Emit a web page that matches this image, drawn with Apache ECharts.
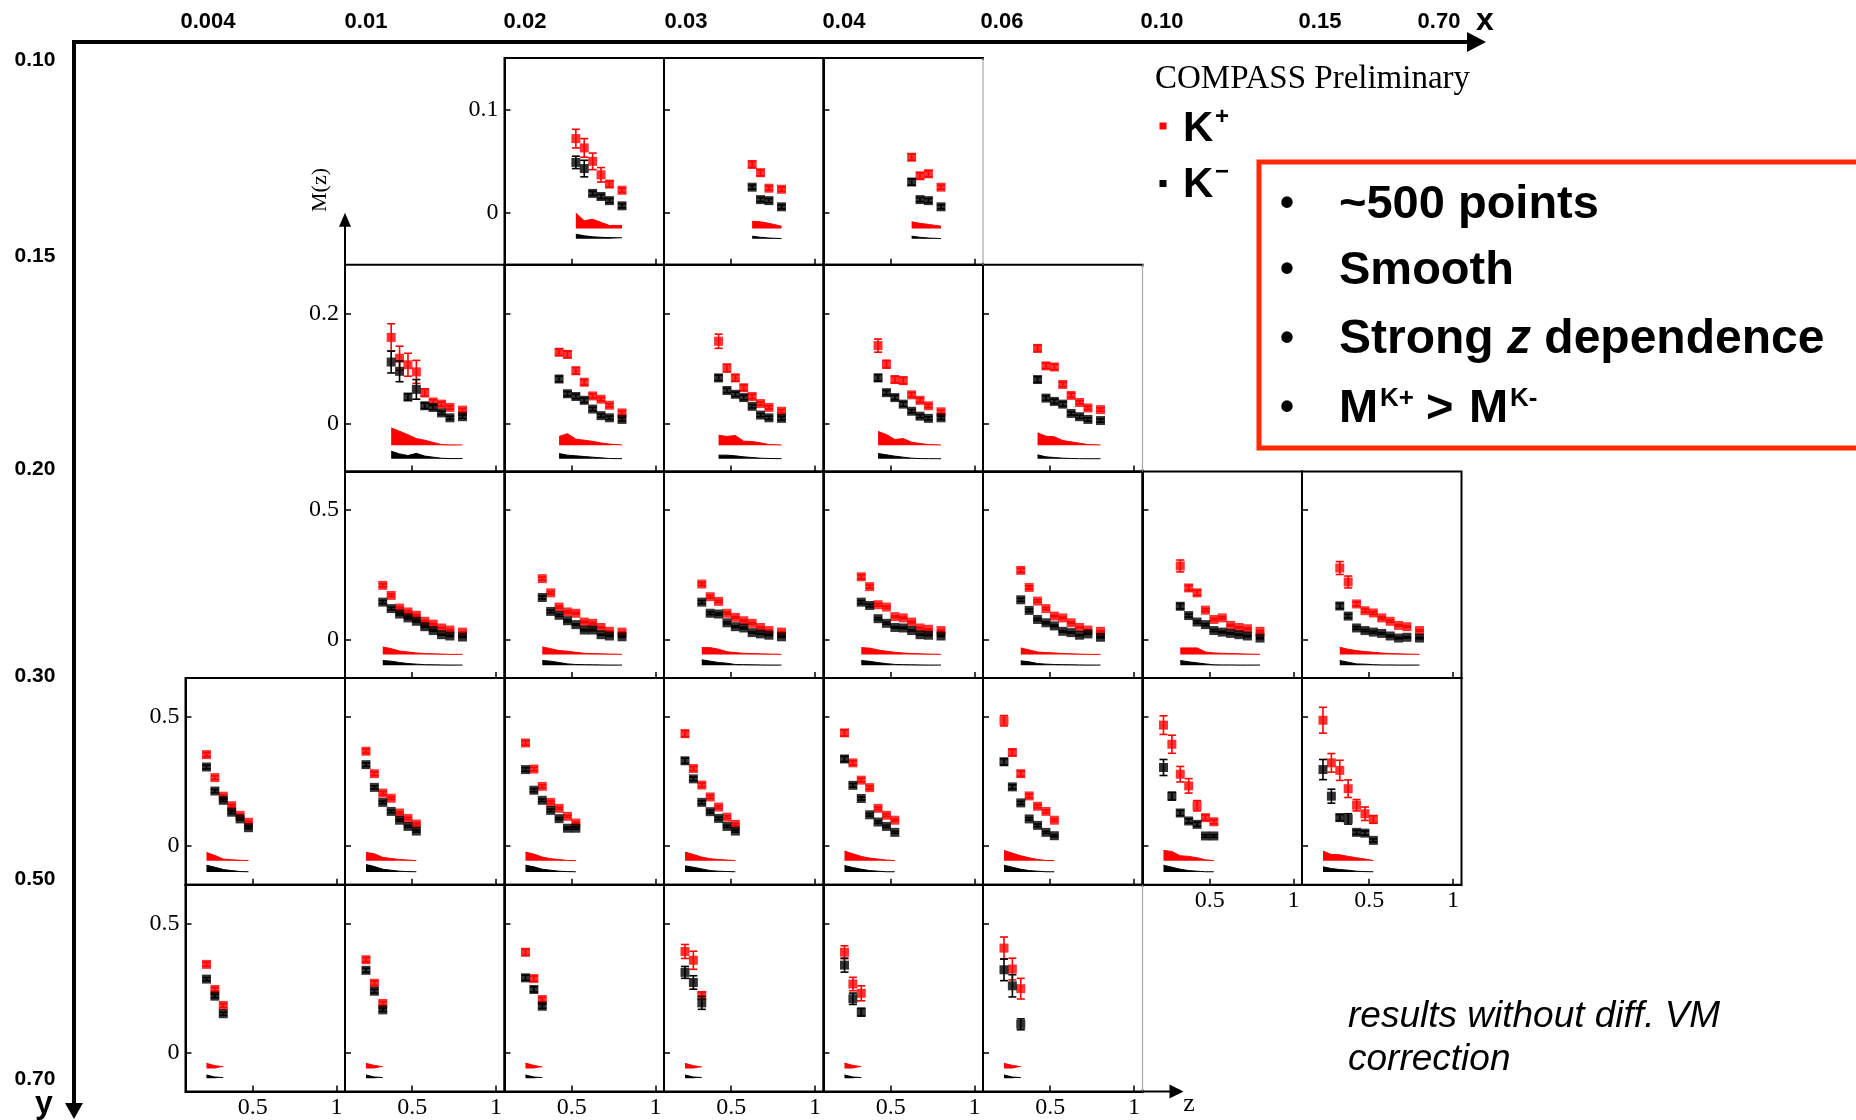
<!DOCTYPE html>
<html><head><meta charset="utf-8">
<script src="https://cdn.jsdelivr.net/npm/echarts/dist/echarts.min.js"></script>
<style>html,body{margin:0;padding:0;background:#fff;}#chart{width:1856px;height:1120px;}</style>
</head><body><div id="chart"></div>
<script>
// ---------------- data ----------------
const Z_BINS = [0.225,0.275,0.325,0.375,0.425,0.475,0.525,0.575,0.625,0.675,0.725,0.8];
const Z_RANGE = [0.1, 1.05];
const Z_TICKS = [0.5, 1];
const X_BIN_LABELS = ['0.004','0.01','0.02','0.03','0.04','0.06','0.10','0.15','0.70'];
const Y_BIN_LABELS = ['0.10','0.15','0.20','0.30','0.50','0.70'];

const ROW_MIN  = [-0.05, -0.088, -0.15, -0.15, -0.15];
const ROW_MAX  = [0.15, 0.29, 0.65, 0.65, 0.65];
const ROW_TICK = [0.1, 0.2, 0.5, 0.5, 0.5];
const ROW_KP_BASE = [-0.015, -0.040, -0.059, -0.057, -0.061];
const ROW_KM_BASE = [-0.025, -0.065, -0.100, -0.100, -0.099];

const PANEL_ROW = [0,0,0, 1,1,1,1,1, 2,2,2,2,2,2,2, 3,3,3,3,3,3,3,3, 4,4,4,4,4,4];
const PANEL_COL = [2,3,4, 1,2,3,4,5, 1,2,3,4,5,6,7, 0,1,2,3,4,5,6,7, 0,1,2,3,4,5];
const PANEL_ZSTART = [6,8,8, 3,4,4,4,4, 2,2,2,2,2,2,2, 0,0,0,0,0,0,0,0, 0,0,0,0,0,0];

const KP = [
 [0.072,0.063,0.050,0.037,0.028,0.022],
 [0.047,0.039,0.024,0.023],
 [0.054,0.036,0.038,0.025],
 [0.157,0.119,0.107,0.094,0.056,0.039,0.035,0.029,0.024],
 [0.130,0.126,0.096,0.075,0.050,0.044,0.033,0.019],
 [0.150,0.101,0.083,0.065,0.049,0.036,0.029,0.022],
 [0.142,0.108,0.080,0.078,0.052,0.042,0.032,0.021],
 [0.137,0.105,0.103,0.071,0.051,0.038,0.028,0.025],
 [0.209,0.170,0.121,0.106,0.093,0.070,0.059,0.044,0.036,0.028],
 [0.235,0.180,0.125,0.106,0.101,0.067,0.062,0.046,0.031,0.028],
 [0.214,0.165,0.147,0.101,0.085,0.072,0.062,0.046,0.034,0.028],
 [0.242,0.204,0.134,0.125,0.088,0.083,0.067,0.044,0.039,0.034],
 [0.267,0.201,0.148,0.119,0.090,0.083,0.064,0.046,0.036,0.031],
 [0.284,0.199,0.180,0.113,0.077,0.083,0.054,0.046,0.041,0.031],
 [0.276,0.222,0.137,0.111,0.102,0.083,0.070,0.054,0.049,0.034],
 [0.354,0.265,0.193,0.156,0.119,0.092],
 [0.367,0.280,0.205,0.185,0.128,0.107,0.085],
 [0.399,0.298,0.231,0.169,0.146,0.115,0.089],
 [0.435,0.300,0.236,0.190,0.151,0.112,0.084],
 [0.438,0.322,0.255,0.226,0.146,0.119,0.100],
 [0.485,0.362,0.280,0.194,0.154,0.134,0.100],
 [0.468,0.394,0.278,0.233,0.156,0.110,0.094],
 [0.487,0.322,0.293,0.222,0.158,0.125,0.103],
 [0.342,0.245,0.183],
 [0.360,0.269,0.191],
 [0.389,0.287,0.206],
 [0.392,0.358,0.222],
 [0.389,0.266,0.230],
 [0.405,0.324,0.248]
];
const KM = [
 [0.049,0.043,0.019,0.016,0.012,0.007],
 [0.025,0.013,0.012,0.006],
 [0.030,0.013,0.012,0.006],
 [0.112,0.095,0.048,0.062,0.032,0.029,0.019,0.010,0.012],
 [0.081,0.054,0.049,0.042,0.026,0.014,0.010,0.007],
 [0.083,0.060,0.053,0.047,0.031,0.015,0.010,0.009],
 [0.083,0.056,0.047,0.035,0.022,0.013,0.009,0.010],
 [0.080,0.046,0.040,0.035,0.018,0.012,0.007,0.005],
 [0.144,0.119,0.098,0.083,0.070,0.049,0.034,0.018,0.013,0.009],
 [0.162,0.108,0.093,0.072,0.057,0.036,0.036,0.018,0.013,0.010],
 [0.144,0.101,0.098,0.064,0.049,0.044,0.026,0.021,0.016,0.010],
 [0.144,0.131,0.080,0.062,0.046,0.044,0.034,0.018,0.016,0.013],
 [0.153,0.112,0.077,0.064,0.052,0.031,0.026,0.016,0.021,0.008],
 [0.128,0.092,0.067,0.057,0.034,0.028,0.023,0.018,0.013,0.005],
 [0.129,0.090,0.044,0.034,0.028,0.023,0.013,0.005,0.008,0.005],
 [0.306,0.213,0.177,0.131,0.105,0.071],
 [0.315,0.227,0.169,0.134,0.100,0.076,0.058],
 [0.296,0.216,0.177,0.138,0.106,0.069,0.069],
 [0.330,0.260,0.169,0.133,0.107,0.076,0.058],
 [0.337,0.235,0.184,0.121,0.093,0.076,0.053],
 [0.326,0.229,0.167,0.105,0.080,0.053,0.040],
 [0.304,0.193,0.128,0.097,0.084,0.039,0.039],
 [0.296,0.193,0.110,0.105,0.053,0.050,0.022],
 [0.285,0.219,0.151],
 [0.319,0.238,0.166],
 [0.290,0.245,0.180],
 [0.311,0.272,0.193],
 [0.339,0.209,0.157],
 [0.321,0.259,0.110]
];
const KP_ERR = [
 [0.009,0.009,0.008,0.007,0.003,0.002],
 [0.003,0.003,0.002,0.002],
 [0.003,0.003,0.003,0.002],
 [0.025,0.022,0.021,0.021,0.007,0.004,0.004,0.003,0.003],
 [0.006,0.006,0.006,0.005,0.004,0.003,0.003,0.003],
 [0.013,0.007,0.006,0.005,0.004,0.003,0.003,0.003],
 [0.012,0.007,0.006,0.006,0.004,0.004,0.003,0.003],
 [0.006,0.005,0.005,0.004,0.004,0.003,0.003,0.003],
 [0.006,0.005,0.004,0.004,0.003,0.003,0.003,0.002,0.002,0.002],
 [0.006,0.005,0.004,0.004,0.003,0.003,0.003,0.002,0.002,0.002],
 [0.006,0.005,0.004,0.004,0.003,0.003,0.003,0.002,0.002,0.002],
 [0.008,0.006,0.005,0.004,0.003,0.003,0.003,0.002,0.002,0.002],
 [0.008,0.006,0.005,0.004,0.003,0.003,0.003,0.002,0.002,0.002],
 [0.023,0.010,0.010,0.005,0.004,0.004,0.003,0.003,0.003,0.003],
 [0.025,0.023,0.008,0.006,0.005,0.004,0.004,0.003,0.003,0.003],
 [0.008,0.007,0.006,0.005,0.004,0.004],
 [0.008,0.007,0.006,0.005,0.004,0.004,0.004],
 [0.009,0.007,0.006,0.005,0.004,0.004,0.004],
 [0.012,0.008,0.007,0.006,0.005,0.005,0.004],
 [0.012,0.008,0.007,0.006,0.005,0.005,0.004],
 [0.020,0.012,0.010,0.007,0.006,0.006,0.005],
 [0.036,0.035,0.030,0.028,0.020,0.010,0.008],
 [0.050,0.036,0.039,0.034,0.022,0.026,0.015],
 [0.008,0.007,0.007],
 [0.009,0.008,0.007],
 [0.012,0.010,0.008],
 [0.027,0.035,0.013],
 [0.025,0.026,0.029],
 [0.043,0.042,0.040]
];
const KM_ERR = [
 [0.006,0.008,0.002,0.002,0.002,0.002],
 [0.002,0.002,0.002,0.002],
 [0.003,0.002,0.002,0.002],
 [0.020,0.019,0.006,0.018,0.005,0.004,0.003,0.003,0.003],
 [0.005,0.004,0.004,0.004,0.003,0.003,0.003,0.003],
 [0.005,0.004,0.004,0.004,0.003,0.003,0.003,0.003],
 [0.006,0.004,0.004,0.004,0.003,0.003,0.003,0.003],
 [0.005,0.004,0.004,0.004,0.003,0.003,0.003,0.003],
 [0.006,0.005,0.004,0.004,0.003,0.003,0.003,0.002,0.002,0.002],
 [0.006,0.005,0.004,0.004,0.003,0.003,0.003,0.002,0.002,0.002],
 [0.006,0.005,0.004,0.004,0.003,0.003,0.003,0.002,0.002,0.002],
 [0.006,0.005,0.004,0.004,0.003,0.003,0.003,0.002,0.002,0.002],
 [0.006,0.005,0.004,0.004,0.003,0.003,0.003,0.002,0.002,0.002],
 [0.010,0.006,0.005,0.004,0.004,0.003,0.003,0.003,0.003,0.003],
 [0.010,0.007,0.005,0.004,0.004,0.003,0.003,0.003,0.003,0.003],
 [0.007,0.006,0.005,0.005,0.004,0.004],
 [0.007,0.006,0.005,0.005,0.004,0.004,0.004],
 [0.007,0.006,0.005,0.005,0.004,0.004,0.004],
 [0.010,0.007,0.006,0.005,0.005,0.004,0.004],
 [0.010,0.007,0.006,0.005,0.005,0.004,0.004],
 [0.012,0.008,0.006,0.005,0.005,0.004,0.004],
 [0.031,0.015,0.010,0.008,0.008,0.005,0.005],
 [0.039,0.027,0.012,0.020,0.008,0.008,0.006],
 [0.006,0.006,0.006],
 [0.008,0.007,0.006],
 [0.010,0.010,0.008],
 [0.023,0.026,0.025],
 [0.027,0.022,0.015],
 [0.042,0.043,0.021]
];
const KP_SYS = [
 [0.015,0.0075,0.009,0.006,0.003,0.003],
 [0.007,0.0065,0.005,0.0023],
 [0.0065,0.005,0.004,0.0023],
 [0.0315,0.0255,0.019,0.012,0.009,0.005,0.001,0.0005,0.0005],
 [0.016,0.021,0.011,0.009,0.007,0.004,0.002,0.0005],
 [0.018,0.016,0.0176,0.0073,0.0067,0.0042,0.0012,0.0003],
 [0.025,0.0195,0.0103,0.012,0.0055,0.003,0.0012,0.0003],
 [0.0225,0.0164,0.0152,0.0085,0.006,0.0036,0.0012,0.0003],
 [0.0296,0.023,0.014,0.010,0.0064,0.004,0.003,0.002,0.001,0.001],
 [0.0296,0.023,0.0155,0.013,0.009,0.005,0.004,0.003,0.002,0.001],
 [0.027,0.027,0.021,0.011,0.0077,0.005,0.004,0.003,0.002,0.001],
 [0.027,0.025,0.018,0.013,0.009,0.006,0.004,0.003,0.002,0.001],
 [0.0258,0.018,0.0103,0.0077,0.0064,0.004,0.003,0.002,0.001,0.001],
 [0.0258,0.0258,0.0258,0.0103,0.0064,0.005,0.004,0.003,0.002,0.001],
 [0.0283,0.0206,0.0155,0.0116,0.009,0.006,0.004,0.003,0.002,0.001],
 [0.0323,0.0207,0.0065,0.004,0.002,0.001],
 [0.0323,0.0271,0.013,0.009,0.005,0.0026,0.001],
 [0.0336,0.0258,0.0142,0.008,0.005,0.0013,0.0005],
 [0.0336,0.0245,0.0142,0.008,0.005,0.0026,0.001],
 [0.0375,0.0271,0.0168,0.0103,0.0065,0.0026,0.001],
 [0.040,0.0297,0.0194,0.0116,0.005,0.0013,0.0005],
 [0.040,0.036,0.0194,0.017,0.0116,0.004,0.0005],
 [0.0375,0.0245,0.0232,0.017,0.0116,0.0065,0.001],
 [0.020,0.011,0.007],
 [0.020,0.012,0.007],
 [0.021,0.012,0.006],
 [0.020,0.011,0.006],
 [0.021,0.012,0.007],
 [0.020,0.012,0.007]
];
const KM_SYS = [
 [0.0045,0.003,0.002,0.0015,0.0012,0.001],
 [0.0026,0.0015,0.0008,0.0003],
 [0.0026,0.0015,0.0008,0.0003],
 [0.014,0.009,0.006,0.010,0.005,0.003,0.001,0.0005,0.0005],
 [0.0097,0.0067,0.0055,0.0042,0.003,0.0018,0.0006,0.0003],
 [0.0067,0.0067,0.0055,0.0036,0.0024,0.0012,0.0006,0.0003],
 [0.0097,0.0073,0.0049,0.003,0.0012,0.0005,0.0003,0.0002],
 [0.0073,0.0036,0.0024,0.0012,0.0006,0.0003,0.0002,0.0002],
 [0.018,0.0155,0.0103,0.0064,0.004,0.002,0.0015,0.001,0.0005,0.0005],
 [0.018,0.0155,0.0103,0.005,0.0026,0.002,0.0015,0.001,0.0005,0.0005],
 [0.0206,0.0155,0.0103,0.0077,0.0026,0.002,0.0015,0.001,0.0005,0.0005],
 [0.018,0.015,0.010,0.006,0.003,0.002,0.0015,0.001,0.0005,0.0005],
 [0.0168,0.013,0.0064,0.004,0.0026,0.002,0.0015,0.001,0.0005,0.0005],
 [0.018,0.013,0.009,0.005,0.0013,0.001,0.001,0.0005,0.0005,0.0005],
 [0.018,0.0116,0.005,0.004,0.002,0.001,0.001,0.0005,0.0005,0.0005],
 [0.0258,0.018,0.009,0.005,0.0013,0.0005],
 [0.0284,0.0207,0.0103,0.0065,0.0026,0.001,0.0005],
 [0.0258,0.0194,0.0103,0.0065,0.0026,0.001,0.0005],
 [0.0233,0.0181,0.0116,0.005,0.0026,0.0013,0.0005],
 [0.0245,0.0168,0.0103,0.005,0.0026,0.0005,0.0005],
 [0.0258,0.0181,0.0103,0.005,0.0026,0.0005,0.0005],
 [0.0258,0.018,0.0103,0.005,0.0026,0.0005,0.0005],
 [0.0194,0.013,0.009,0.0065,0.0026,0.001,0.0005],
 [0.013,0.005,0.003],
 [0.013,0.005,0.003],
 [0.013,0.005,0.003],
 [0.013,0.005,0.003],
 [0.013,0.005,0.003],
 [0.013,0.005,0.003]
];

// ---------------- layout / style ----------------
const COL_LEFT0 = 185.5, COL_W = 159.5, ROW_TOP0 = 58, ROW_H = 206.7;
const RED = '#ff0000', BLACK = '#000000', BOX_RED = '#ff2a00';
const SERIF = "'Liberation Serif','Times New Roman',serif";
const SANS = "'Liberation Sans',Arial,Helvetica,sans-serif";
const X_LABEL_POS = [208, 366, 525, 686, 844, 1002, 1162, 1320, 1439];
const Y_LABEL_POS = [60, 256, 469, 676, 879, 1079];
const BULLET_Y = [205, 271, 340, 409];

function colLeft(c){ return COL_LEFT0 + c*COL_W; }
function rowTop(r){ return ROW_TOP0 + r*ROW_H; }
function hasPanel(r, c){
  for (let i = 0; i < PANEL_ROW.length; i++) if (PANEL_ROW[i] === r && PANEL_COL[i] === c) return true;
  return false;
}
function errRender(color){
  return function(params, api){
    const x = api.value(0);
    const t = api.coord([x, api.value(2)]);
    const b = api.coord([x, api.value(1)]);
    const w = 4;
    const st = {stroke: color, lineWidth: 1.6};
    return {type:'group', children:[
      {type:'line', shape:{x1:t[0], y1:t[1], x2:b[0], y2:b[1]}, style: st},
      {type:'line', shape:{x1:t[0]-w, y1:t[1], x2:t[0]+w, y2:t[1]}, style: st},
      {type:'line', shape:{x1:b[0]-w, y1:b[1], x2:b[0]+w, y2:b[1]}, style: st}
    ]};
  };
}

const grids = [], xAxes = [], yAxes = [], series = [];
const graphics = [];

for (let p = 0; p < PANEL_ROW.length; p++){
  const r = PANEL_ROW[p], c = PANEL_COL[p], s = PANEL_ZSTART[p];
  const n = KP[p].length;
  const zs = Z_BINS.slice(s, s + n);
  const showX = !hasPanel(r + 1, c);
  const showY = !hasPanel(r, c - 1);
  grids.push({left: colLeft(c), top: rowTop(r), width: COL_W, height: ROW_H,
    show: true, borderColor: BLACK, borderWidth: 2, backgroundColor: 'transparent',
    containLabel: false, outerBoundsMode: 'none'});
  xAxes.push({gridIndex: p, type: 'value', min: Z_RANGE[0], max: Z_RANGE[1],
    axisLine: {show: true, onZero: false, lineStyle: {color: BLACK, width: 2}},
    axisTick: {show: true, inside: true, length: 6, customValues: Z_TICKS, lineStyle: {color: BLACK, width: 1.5}},
    axisLabel: {show: showX, customValues: Z_TICKS, margin: 4, fontFamily: SERIF, fontSize: 24, color: BLACK},
    splitLine: {show: false}});
  yAxes.push({gridIndex: p, type: 'value', min: ROW_MIN[r], max: ROW_MAX[r],
    axisLine: {show: true, onZero: false, lineStyle: {color: BLACK, width: 2}},
    axisTick: {show: true, inside: true, length: 6, customValues: [0, ROW_TICK[r]], lineStyle: {color: BLACK, width: 1.5}},
    axisLabel: {show: showY, customValues: [0, ROW_TICK[r]], margin: 6, fontFamily: SERIF, fontSize: 24, color: BLACK},
    splitLine: {show: false}});

  // systematic bands
  series.push({type: 'line', xAxisIndex: p, yAxisIndex: p, silent: true, z: 1,
    data: zs.map((z, i) => [z, ROW_KP_BASE[r] + KP_SYS[p][i]]),
    symbol: 'none', lineStyle: {color: RED, width: 1},
    areaStyle: {color: RED, opacity: 1, origin: ROW_KP_BASE[r]}});
  series.push({type: 'line', xAxisIndex: p, yAxisIndex: p, silent: true, z: 1,
    data: zs.map((z, i) => [z, ROW_KM_BASE[r] + KM_SYS[p][i]]),
    symbol: 'none', lineStyle: {color: BLACK, width: 1},
    areaStyle: {color: BLACK, opacity: 1, origin: ROW_KM_BASE[r]}});
  // K+
  series.push({type: 'custom', xAxisIndex: p, yAxisIndex: p, silent: true, z: 2,
    renderItem: errRender(RED), encode: {x: 0, y: [1, 2]},
    data: zs.map((z, i) => [z, KP[p][i] - KP_ERR[p][i], KP[p][i] + KP_ERR[p][i]])});
  series.push({type: 'scatter', xAxisIndex: p, yAxisIndex: p, silent: true, z: 3,
    symbol: 'rect', symbolSize: 9, itemStyle: {color: RED},
    data: zs.map((z, i) => [z, KP[p][i]])});
  // K-
  series.push({type: 'custom', xAxisIndex: p, yAxisIndex: p, silent: true, z: 4,
    renderItem: errRender(BLACK), encode: {x: 0, y: [1, 2]},
    data: zs.map((z, i) => [z, KM[p][i] - KM_ERR[p][i], KM[p][i] + KM_ERR[p][i]])});
  series.push({type: 'scatter', xAxisIndex: p, yAxisIndex: p, silent: true, z: 5,
    symbol: 'rect', symbolSize: 9, itemStyle: {color: BLACK},
    data: zs.map((z, i) => [z, KM[p][i]])});

  // light grey right edge for row ends that are not the last column
  if (!hasPanel(r, c + 1) && c < 7){
    const xr = colLeft(c) + COL_W, y0 = rowTop(r), y1 = rowTop(r) + ROW_H;
    graphics.push({type:'line', z: 50, shape:{x1: xr, y1: y0 + 2, x2: xr, y2: y1 - 2}, style:{stroke:'#ffffff', lineWidth: 3}});
    graphics.push({type:'line', z: 51, shape:{x1: xr, y1: y0, x2: xr, y2: y1}, style:{stroke:'#a8a8a8', lineWidth: 1.2}});
  }
}

// ---------------- decorations ----------------
function txt(x, y, text, st){
  return {type:'text', z: 60, x: x, y: y, style: Object.assign({text: text, fill: BLACK, align: 'center', verticalAlign: 'middle'}, st)};
}
// big x axis (top)
graphics.push({type:'line', z: 60, shape:{x1: 72, y1: 42, x2: 1470, y2: 42}, style:{stroke: BLACK, lineWidth: 4}});
graphics.push({type:'polygon', z: 60, shape:{points:[[1467,32],[1467,52],[1486,42]]}, style:{fill: BLACK}});
X_BIN_LABELS.forEach((l, i) => graphics.push(txt(X_LABEL_POS[i], 22, l, {fontFamily: SANS, fontWeight: 'bold', fontSize: 22})));
graphics.push(txt(1485, 21, 'x', {fontFamily: SANS, fontWeight: 'bold', fontSize: 32}));
// big y axis (left)
graphics.push({type:'line', z: 60, shape:{x1: 74, y1: 40, x2: 74, y2: 1106}, style:{stroke: BLACK, lineWidth: 4}});
graphics.push({type:'polygon', z: 60, shape:{points:[[65,1103],[83,1103],[74,1119]]}, style:{fill: BLACK}});
Y_BIN_LABELS.forEach((l, i) => graphics.push(txt(35, Y_LABEL_POS[i], l, {fontFamily: SANS, fontWeight: 'bold', fontSize: 21})));
graphics.push(txt(44, 1104, 'y', {fontFamily: SANS, fontWeight: 'bold', fontSize: 32}));

// M(z) axis arrow
const ax1 = colLeft(1), ay1 = rowTop(1);
graphics.push({type:'line', z: 60, shape:{x1: ax1, y1: ay1, x2: ax1, y2: ay1 - 40}, style:{stroke: BLACK, lineWidth: 2}});
graphics.push({type:'polygon', z: 60, shape:{points:[[ax1-6, ay1-38],[ax1+6, ay1-38],[ax1, ay1-52]]}, style:{fill: BLACK}});
graphics.push({type:'text', z: 60, x: 320, y: 190, rotation: Math.PI/2,
  style:{text:'M(z)', fill: BLACK, fontFamily: SERIF, fontSize: 22, align:'center', verticalAlign:'middle'}});

// z axis arrow
const zx0 = colLeft(6), zy = rowTop(5);
graphics.push({type:'line', z: 60, shape:{x1: zx0, y1: zy, x2: zx0 + 30, y2: zy}, style:{stroke: BLACK, lineWidth: 2}});
graphics.push({type:'polygon', z: 60, shape:{points:[[zx0+27, zy-7],[zx0+27, zy+7],[zx0+41, zy]]}, style:{fill: BLACK}});
graphics.push(txt(1189, 1104, 'z', {fontFamily: SERIF, fontSize: 26}));

// legend
graphics.push(txt(1155, 79, 'COMPASS Preliminary', {fontFamily: SERIF, fontSize: 33, align: 'left'}));
graphics.push({type:'rect', z: 60, shape:{x: 1159.5, y: 122.5, width: 7, height: 7}, style:{fill: RED}});
graphics.push(txt(1183, 129, 'K', {fontFamily: SANS, fontWeight: 'bold', fontSize: 42, align: 'left'}));
graphics.push(txt(1215, 117, '+', {fontFamily: SANS, fontWeight: 'bold', fontSize: 24, align: 'left'}));
graphics.push({type:'rect', z: 60, shape:{x: 1159.5, y: 180, width: 7, height: 7}, style:{fill: BLACK}});
graphics.push(txt(1183, 185, 'K', {fontFamily: SANS, fontWeight: 'bold', fontSize: 42, align: 'left'}));
graphics.push(txt(1215, 172, '\u2212', {fontFamily: SANS, fontWeight: 'bold', fontSize: 24, align: 'left'}));

// red box with bullets
graphics.push({type:'rect', z: 60, shape:{x: 1259, y: 162, width: 640, height: 286}, style:{fill: 'none', stroke: BOX_RED, lineWidth: 5}});
BULLET_Y.forEach(y => graphics.push(txt(1287, y, '\u2022', {fontFamily: SANS, fontWeight: 'bold', fontSize: 40})));
const BIG = {fontFamily: SANS, fontWeight: 'bold', fontSize: 47, align: 'left'};
graphics.push(txt(1339, BULLET_Y[0], '~500 points', BIG));
graphics.push(txt(1339, BULLET_Y[1], 'Smooth', BIG));
graphics.push({type:'text', z: 60, x: 1339, y: BULLET_Y[2], style:{
  text: '{b|Strong }{i|z}{b| dependence}', align: 'left', verticalAlign: 'middle', fill: BLACK,
  rich: {b: {fontFamily: SANS, fontWeight: 'bold', fontSize: 48, fill: BLACK},
         i: {fontFamily: SANS, fontWeight: 'bold', fontStyle: 'italic', fontSize: 48, fill: BLACK}}}});
graphics.push(txt(1339, BULLET_Y[3], 'M', BIG));
graphics.push(txt(1380, BULLET_Y[3] - 10, 'K+', {fontFamily: SANS, fontWeight: 'bold', fontSize: 26, align: 'left'}));
graphics.push(txt(1426, BULLET_Y[3], '>', BIG));
graphics.push(txt(1469, BULLET_Y[3], 'M', BIG));
graphics.push(txt(1510, BULLET_Y[3] - 10, 'K-', {fontFamily: SANS, fontWeight: 'bold', fontSize: 26, align: 'left'}));

// note
graphics.push(txt(1348, 1017, 'results without diff. VM', {fontFamily: SANS, fontStyle: 'italic', fontSize: 37, align: 'left'}));
graphics.push(txt(1348, 1060, 'correction', {fontFamily: SANS, fontStyle: 'italic', fontSize: 37, align: 'left'}));

const chart = echarts.init(document.getElementById('chart'), null, {renderer: 'canvas', width: 1856, height: 1120});
chart.setOption({
  animation: false,
  backgroundColor: '#ffffff',
  grid: grids, xAxis: xAxes, yAxis: yAxes, series: series,
  graphic: {elements: graphics}
});
</script></body></html>
